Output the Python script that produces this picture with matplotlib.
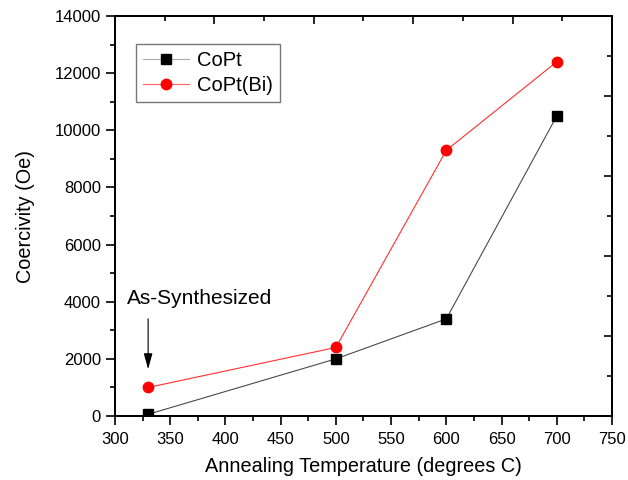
import matplotlib
matplotlib.use("Agg")
import matplotlib.pyplot as plt
import numpy as np
from matplotlib.ticker import MultipleLocator, FixedLocator, NullFormatter

plt.rcParams['font.family'] = ['Liberation Sans', 'DejaVu Sans']

temps = [330, 500, 600, 700]
copt = [60, 2000, 3400, 10500]
copt_bi = [1000, 2400, 9300, 12400]

xlim = (300, 750)
ylim = (0, 14000)

fig = plt.figure(figsize=(6.28, 4.8), dpi=100)
ax = fig.add_axes([0.1831, 0.1333, 0.7914, 0.8333])

ax.plot(temps, copt, color='#4a4a4a', lw=0.8, marker='s', ms=6.5,
        mfc='black', mec='black', label='CoPt', zorder=3)
ax.plot(temps, copt_bi, color='#ff3030', lw=0.8, marker='o', ms=7.5,
        mfc='red', mec='red', label='CoPt(Bi)', zorder=3)

ax.set_xlim(*xlim)
ax.set_ylim(*ylim)
ax.xaxis.set_major_locator(MultipleLocator(50))
ax.xaxis.set_minor_locator(MultipleLocator(25))
ax.yaxis.set_major_locator(MultipleLocator(2000))
ax.yaxis.set_minor_locator(MultipleLocator(1000))
ax.tick_params(which='major', direction='out', length=6.5, width=1.2, labelsize=12)
ax.tick_params(which='minor', direction='out', length=3.5, width=1.2)
ax.tick_params(axis='x', pad=5)
for s in ax.spines.values():
    s.set_linewidth(1.3)

# top / right axes with inward ticks, no labels
axt = ax.twiny()
axt.set_xlim(*xlim)
axt.xaxis.set_major_locator(FixedLocator(np.linspace(xlim[0], xlim[1], 6)))
axt.xaxis.set_minor_locator(FixedLocator(np.linspace(xlim[0], xlim[1], 11)))
axt.xaxis.set_major_formatter(NullFormatter())
axt.tick_params(which='major', direction='in', length=6, width=1.2)
axt.tick_params(which='minor', direction='in', length=3.5, width=1.2)
axr = ax.twinx()
axr.set_ylim(*ylim)
axr.yaxis.set_major_locator(FixedLocator(np.linspace(ylim[0], ylim[1], 6)))
axr.yaxis.set_minor_locator(FixedLocator(np.linspace(ylim[0], ylim[1], 11)))
axr.yaxis.set_major_formatter(NullFormatter())
axr.tick_params(which='major', direction='in', length=6, width=1.2)
axr.tick_params(which='minor', direction='in', length=3.5, width=1.2)
for a in (axt, axr):
    for s in a.spines.values():
        s.set_linewidth(1.3)

ax.set_xlabel('Annealing Temperature (degrees C)', fontsize=14.3, labelpad=7)
ax.set_ylabel('Coercivity (Oe)', fontsize=14.3, labelpad=14)

ax.annotate('', xy=(330, 1540), xytext=(330, 3500),
            arrowprops=dict(arrowstyle='-|>,head_width=0.22,head_length=0.8',
                            color='black', lw=0.8, mutation_scale=12), zorder=4)
ax.text(377, 4130, 'As-Synthesized', fontsize=15, ha='center', va='center')

leg = ax.legend(loc='upper left', bbox_to_anchor=(0.042, 0.93), borderaxespad=0,
                fontsize=14.5, frameon=True, fancybox=False, edgecolor='#777777',
                framealpha=1, handlelength=2.3, handletextpad=0.4,
                borderpad=0.35, labelspacing=0.3)
leg.get_frame().set_linewidth(1.0)
leg.get_lines()[0].set_color('#aaaaaa')
leg.get_lines()[1].set_color('#ff6060')

fig.savefig('out.png', dpi=100)
